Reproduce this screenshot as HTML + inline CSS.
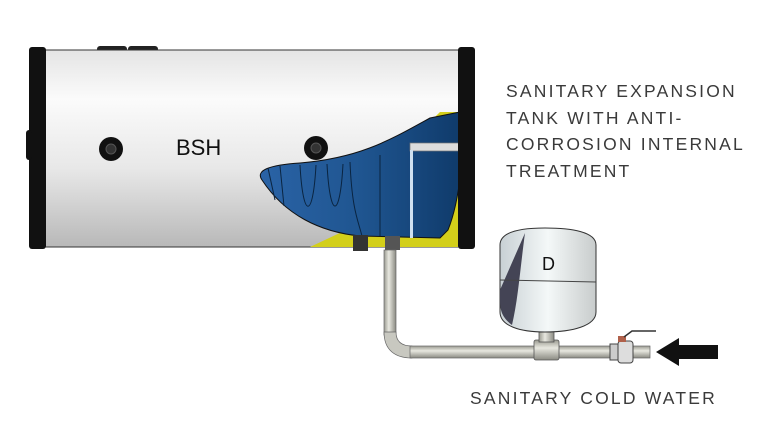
<!DOCTYPE html>
<html><head><style>
html,body{margin:0;padding:0;background:#fff;}
svg{display:block}
text{font-family:"Liberation Sans",sans-serif;}
</style></head><body>
<svg width="772" height="438" viewBox="0 0 772 438">
<defs>
<linearGradient id="tank" x1="0" y1="0" x2="0" y2="1">
<stop offset="0" stop-color="#e4e4e4"/><stop offset="0.25" stop-color="#fbfbfb"/><stop offset="0.6" stop-color="#e8e8e8"/><stop offset="1" stop-color="#b8b8b8"/>
</linearGradient>
<linearGradient id="blue" x1="0" y1="0" x2="1" y2="0">
<stop offset="0" stop-color="#2a63a6"/><stop offset="0.5" stop-color="#1f5590"/><stop offset="1" stop-color="#0f3a6a"/>
</linearGradient>
<linearGradient id="pipe" x1="0" y1="0" x2="0" y2="1">
<stop offset="0" stop-color="#9a9a90"/><stop offset="0.4" stop-color="#e8e8e0"/><stop offset="1" stop-color="#8a8a82"/>
</linearGradient>
<linearGradient id="pipev" x1="0" y1="0" x2="1" y2="0">
<stop offset="0" stop-color="#9a9a90"/><stop offset="0.4" stop-color="#e8e8e0"/><stop offset="1" stop-color="#8a8a82"/>
</linearGradient>
<linearGradient id="dt" x1="0" y1="0" x2="1" y2="0">
<stop offset="0" stop-color="#c8d0d4"/><stop offset="0.5" stop-color="#f4f8f8"/><stop offset="1" stop-color="#c8cccc"/>
</linearGradient>
</defs>
<rect x="97" y="46" width="30" height="6" rx="3" fill="#222"/>
<rect x="128" y="46" width="30" height="6" rx="3" fill="#222"/>
<rect x="40" y="50" width="425" height="197" fill="url(#tank)" stroke="#333" stroke-width="1"/>
<path d="M310 247 L462 247 L462 112 L440 112 C420 130 410 160 410 200 Z" fill="#d3cf1a"/>
<path d="M262 180 C255 170 270 165 300 163 C360 158 390 140 430 118 L460 112 C465 150 460 200 448 230 L440 238 L360 236 C320 232 285 215 262 180 Z" fill="url(#blue)" stroke="#111" stroke-width="1"/>
<g fill="none" stroke="#0a2440" stroke-width="1">
<path d="M268 168 L275 200"/><path d="M280 166 L284 206"/><path d="M300 165 C303 220 313 220 316 165"/>
<path d="M327 164 C330 220 340 220 343 164"/><path d="M350 162 C352 210 358 220 362 236"/>
<path d="M380 155 L380 236"/>
</g>
<rect x="410" y="143" width="52" height="8" fill="#ddd" stroke="#777" stroke-width="0.7"/>
<rect x="410" y="150" width="3" height="88" fill="#cfe0f0"/>
<rect x="460" y="139" width="12" height="16" rx="2" fill="#ccc" stroke="#555"/>
<rect x="29" y="47" width="17" height="202" rx="3" fill="#111"/>
<rect x="458" y="47" width="17" height="202" rx="3" fill="#111"/>
<rect x="26" y="130" width="6" height="30" rx="3" fill="#111"/>
<rect x="353" y="235" width="15" height="16" fill="#333"/>
<rect x="385" y="236" width="15" height="14" fill="#555"/>
<circle cx="111" cy="149" r="12" fill="#111"/><circle cx="111" cy="149" r="5" fill="#333" stroke="#555"/>
<circle cx="316" cy="148" r="12" fill="#111"/><circle cx="316" cy="148" r="5" fill="#333" stroke="#555"/>
<text x="176" y="155" font-size="22" fill="#111">BSH</text>
<rect x="384" y="250" width="12" height="85" fill="url(#pipev)" stroke="#666" stroke-width="0.7"/>
<path d="M384 332 L396 332 C396 342 402 346 412 346 L412 358 C395 358 384 350 384 332 Z" fill="#c8c8c0" stroke="#666" stroke-width="0.7"/>
<rect x="410" y="346" width="240" height="12" fill="url(#pipe)" stroke="#666" stroke-width="0.7"/>
<rect x="534" y="340" width="25" height="20" rx="2" fill="url(#pipe)" stroke="#555" stroke-width="0.8"/>
<rect x="539" y="330" width="15" height="12" fill="url(#pipev)" stroke="#555" stroke-width="0.8"/>
<rect x="610" y="344" width="10" height="16" fill="#ccc" stroke="#444"/>
<rect x="618" y="341" width="15" height="22" rx="3" fill="#ddd" stroke="#444"/>
<rect x="618" y="336" width="8" height="6" fill="#b0604a"/>
<path d="M624 337 L632 331 L656 331" stroke="#333" stroke-width="1.5" fill="none"/>
<path d="M500 245 C500 232 520 228 545 228 C572 228 596 232 596 245 L596 312 C596 326 572 332 545 332 C520 332 500 326 500 312 Z" fill="url(#dt)" stroke="#333" stroke-width="1"/>
<path d="M525 233 C520 270 518 300 512 325 C503 318 500 312 500 300 L500 290 Z" fill="#445"/>
<path d="M500 280 L596 282" stroke="#444" stroke-width="1"/>
<text x="542" y="270" font-size="18" fill="#111">D</text>
<path d="M656 352 L679 338 L679 345 L718 345 L718 359 L679 359 L679 366 Z" fill="#111"/>
<g font-size="17.5" fill="#3a3a3a" letter-spacing="2.2">
<text x="506" y="97">SANITARY EXPANSION</text>
<text x="506" y="124">TANK WITH ANTI-</text>
<text x="506" y="150">CORROSION INTERNAL</text>
<text x="506" y="177">TREATMENT</text>
<text x="470" y="404">SANITARY COLD WATER</text>
</g>
</svg>
</body></html>
